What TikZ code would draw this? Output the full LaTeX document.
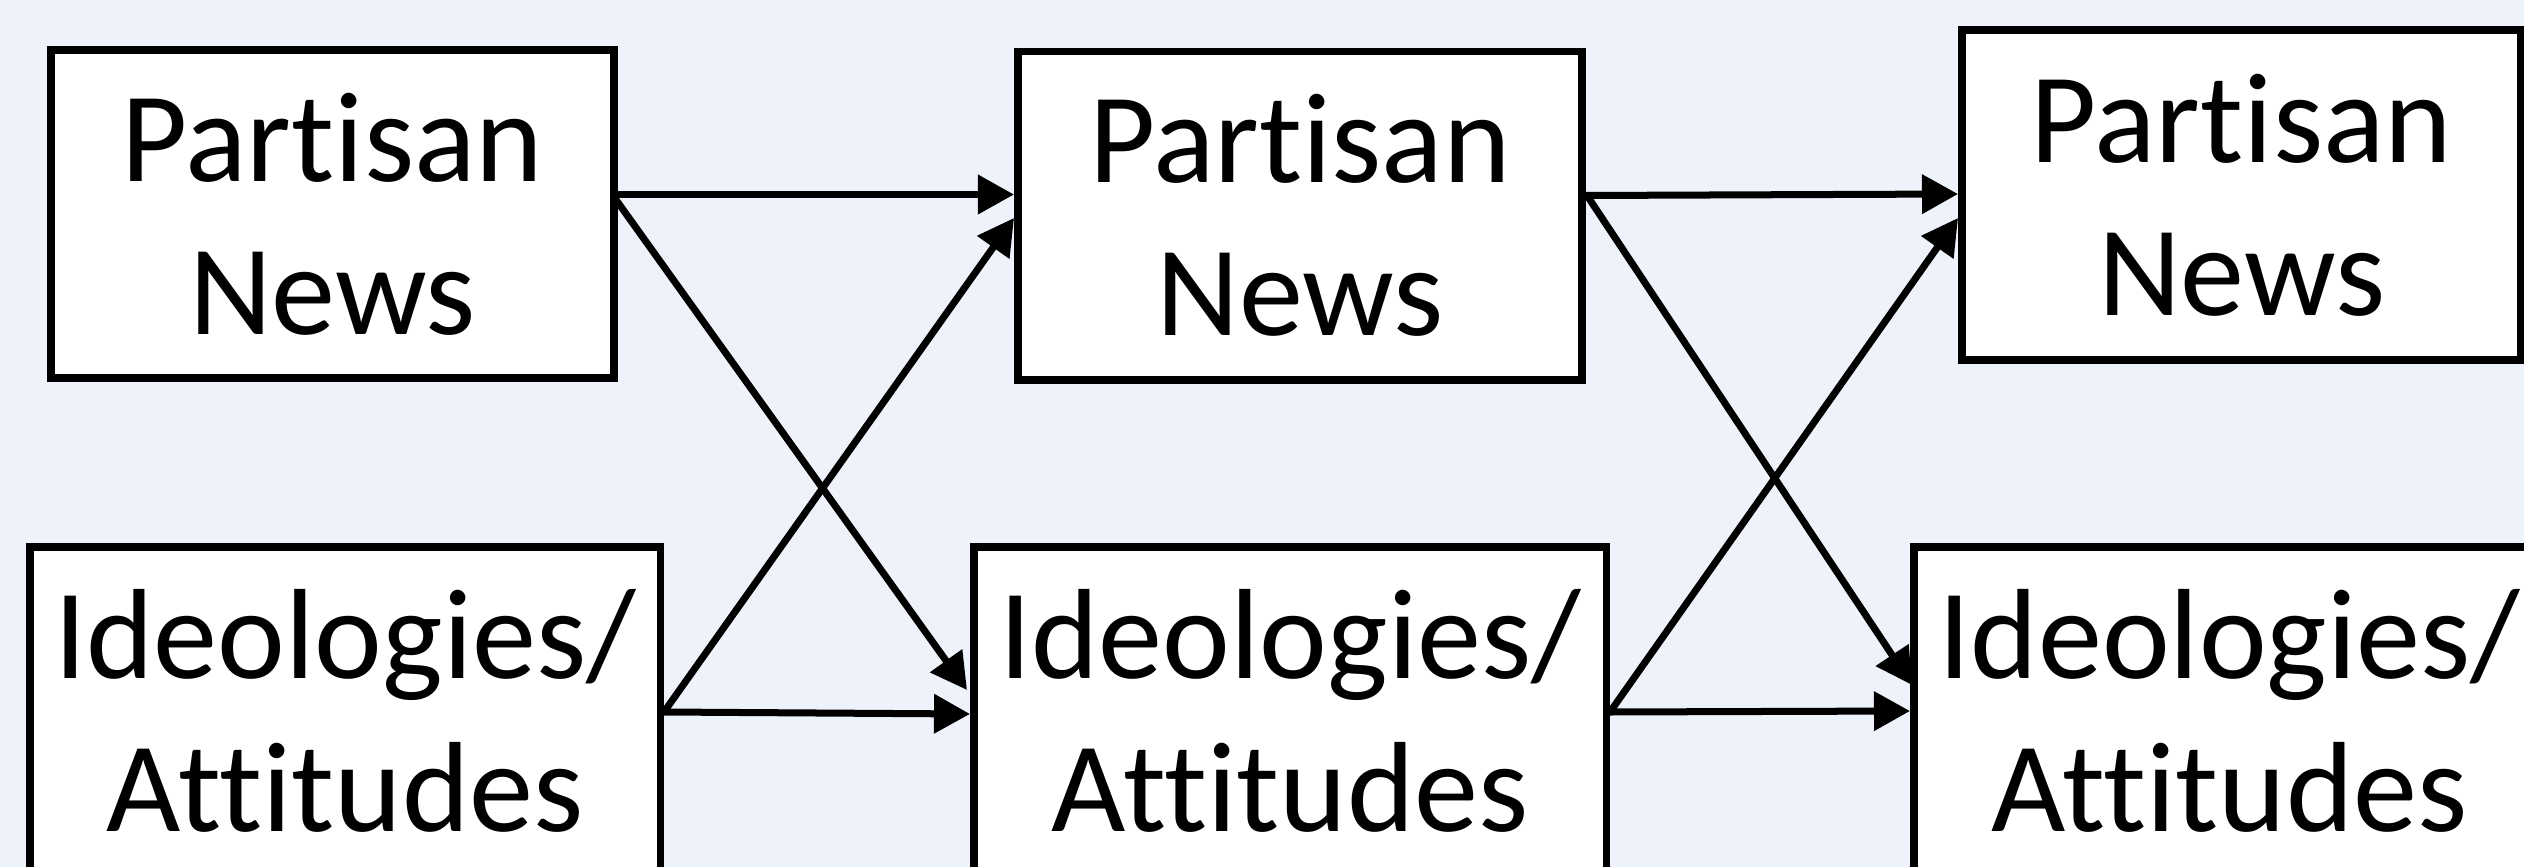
\documentclass[tikz,border=0pt]{standalone}
\usepackage{fontspec}
\setmainfont{Carlito}[Ligatures={NoCommon,NoRequired,NoContextual}]
\usetikzlibrary{arrows.meta,calc}
\definecolor{bgc}{RGB}{238,242,250}
\tikzset{
  box/.style={draw=black, fill=white, line width=0.075cm, outer sep=0pt, inner sep=0pt,
    align=center, font=\fontsize{36.5}{43.5}\selectfont},
  conn/.style={line width=0.07cm, -{Triangle[length=0.36cm,width=0.38cm]}}
}
\begin{document}
\begin{tikzpicture}[x=0.01cm,y=-0.01cm]
\useasboundingbox (0,0) rectangle (2524,867);
\clip (0,0) rectangle (2524,867);
\fill[bgc] (0,0) rectangle (2524,867);
\node[box, minimum width=563*0.01cm, minimum height=328*0.01cm] (b1) at (332.5,214) {Partisan\\News};
\node[box, minimum width=564*0.01cm, minimum height=328.5*0.01cm] (b2) at (1300,215.75) {Partisan\\News};
\node[box, minimum width=559*0.01cm, minimum height=330*0.01cm] (b3) at (2241.5,195) {Partisan\\News};
\node[box, minimum width=630.5*0.01cm, minimum height=328*0.01cm] (b4) at (345.25,711) {Ideologies/\\Attitudes};
\node[box, minimum width=632.5*0.01cm, minimum height=328*0.01cm] (b5) at (1290.25,711) {Ideologies/\\Attitudes};
\node[box, minimum width=631*0.01cm, minimum height=328*0.01cm] (b6) at (2229.5,711) {Ideologies/\\Attitudes};
\draw[conn] ($(b1.east)+(0,-19.5)$) -- ($(b2.west)+(-4,-21.25)$);
\draw[conn] ($(b1.east)+(0,-17)$) -- ($(b5.west)+(-7,-21)$);
\draw[conn] ($(b4.east)+(3.5,1)$) -- ($(b2.west)+(-4,2.25)$);
\draw[conn] ($(b4.east)+(3.5,1)$) -- ($(b5.west)+(-4,3)$);
\draw[conn] ($(b2.east)+(4,-20.25)$) -- ($(b3.west)+(-4,-1)$);
\draw[conn] ($(b2.east)+(6,-18.75)$) -- ($(b6.west)+(-2,-26)$);
\draw[conn] ($(b5.east)+(3.5,1)$) -- ($(b3.west)+(-4,23)$);
\draw[conn] ($(b5.east)+(3.5,1)$) -- ($(b6.west)+(-4,0)$);
\end{tikzpicture}
\end{document}
